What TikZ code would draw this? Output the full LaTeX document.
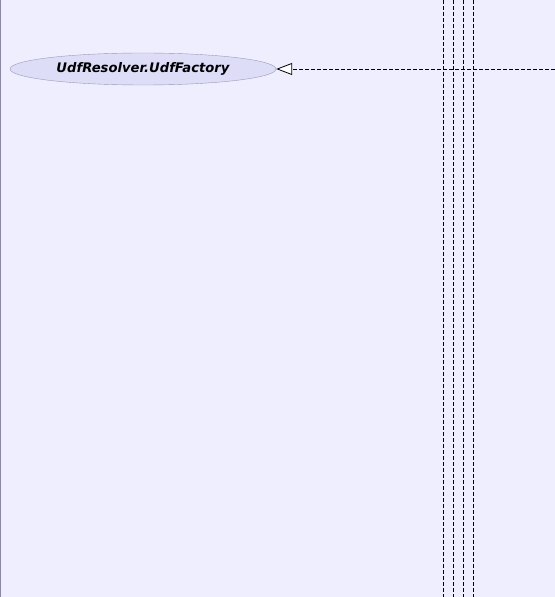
\documentclass[tikz,border=0pt]{standalone}
\usepackage{fontspec}
\setmainfont{DejaVu Sans}
\usetikzlibrary{shapes.geometric,arrows.meta}
\definecolor{bgc}{HTML}{EEEEFF}
\definecolor{ellfill}{HTML}{DDDDF8}
\definecolor{ellline}{HTML}{9999BB}
\definecolor{framec}{HTML}{8888AA}
\tikzset{
  cls/.style={ellipse, draw=ellline, fill=ellfill, minimum width=266bp, minimum height=32bp, inner sep=0pt, font=\fontsize{13.2}{15}\selectfont\bfseries\itshape},
  dep/.style={draw=black, dash pattern=on 4bp off 2bp, line width=0.8bp},
  real/.style={dep, -{Triangle[open, fill=white, length=16bp, width=12bp]}},
}
\begin{document}
\begin{tikzpicture}[x=1bp,y=-1bp]
\useasboundingbox (0,0) rectangle (555,597);
\fill[bgc] (0,0) rectangle (555,597);
\draw[framec, line width=1bp] (0.5,0) -- (0.5,597);
\coordinate (t1) at (443,0); \coordinate (b1) at (443,597);
\coordinate (t2) at (453,0); \coordinate (b2) at (453,597);
\coordinate (t3) at (463,0); \coordinate (b3) at (463,597);
\coordinate (t4) at (473,0); \coordinate (b4) at (473,597);
\draw[dep] (t1) -- (b1);
\draw[dep] (t2) -- (b2);
\draw[dep] (t3) -- (b3);
\draw[dep] (t4) -- (b4);
\node[cls] (uf) at (143,69) {UdfResolver.UdfFactory};
\coordinate (src) at (555,69);
\draw[real] (src) -- (uf);
\end{tikzpicture}
\end{document}
